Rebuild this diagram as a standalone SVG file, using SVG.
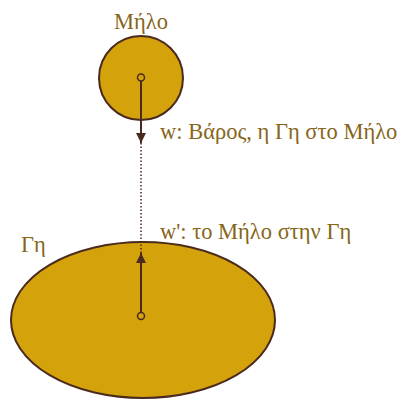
<svg xmlns="http://www.w3.org/2000/svg" width="403" height="401" viewBox="0 0 403 401">
<defs>
<style>
.body{fill:#D4A20A;stroke:#4A2A1E;stroke-width:2}
.lbl{font-family:"Liberation Serif","DejaVu Serif",serif;font-size:22.5px;fill:#86661A}
.vec{stroke:#4A2A1E;stroke-width:2;fill:none}
.dot{stroke:#4A2A1E;stroke-width:1.5;stroke-dasharray:1.5 2;fill:none}
.pt{fill:#D4A20A;stroke:#4A2A1E;stroke-width:1.5}
</style>
<marker id="ah" viewBox="0 0 10 10" refX="10" refY="5" markerWidth="5" markerHeight="5" orient="auto-start-reverse">
<path d="M0,0 L10,5 L0,10 z" fill="#4A2A1E"/>
</marker>
</defs>
<rect width="403" height="401" fill="#fff"/>
<g id="earth">
<ellipse class="body" cx="143" cy="320" rx="132" ry="78"/>
<text class="lbl" x="21" y="252">Γη</text>
</g>
<g id="apple">
<circle class="body" cx="141" cy="78" r="42"/>
<text class="lbl" x="141" y="29" text-anchor="middle">Μήλο</text>
</g>
<g id="connectors">
<line class="dot" x1="141" y1="143" x2="141" y2="253"/>
<line class="vec" x1="141" y1="81" x2="141" y2="143" marker-end="url(#ah)"/>
<line class="vec" x1="141" y1="312.5" x2="141" y2="253" marker-end="url(#ah)"/>
<circle class="pt" cx="141" cy="77.5" r="3.5"/>
<circle class="pt" cx="141" cy="316" r="3.5"/>
<text class="lbl" x="160" y="139">w: Βάρος, η Γη στο Μήλο</text>
<text class="lbl" x="160" y="239">w': το Μήλο στην Γη</text>
</g>
</svg>
